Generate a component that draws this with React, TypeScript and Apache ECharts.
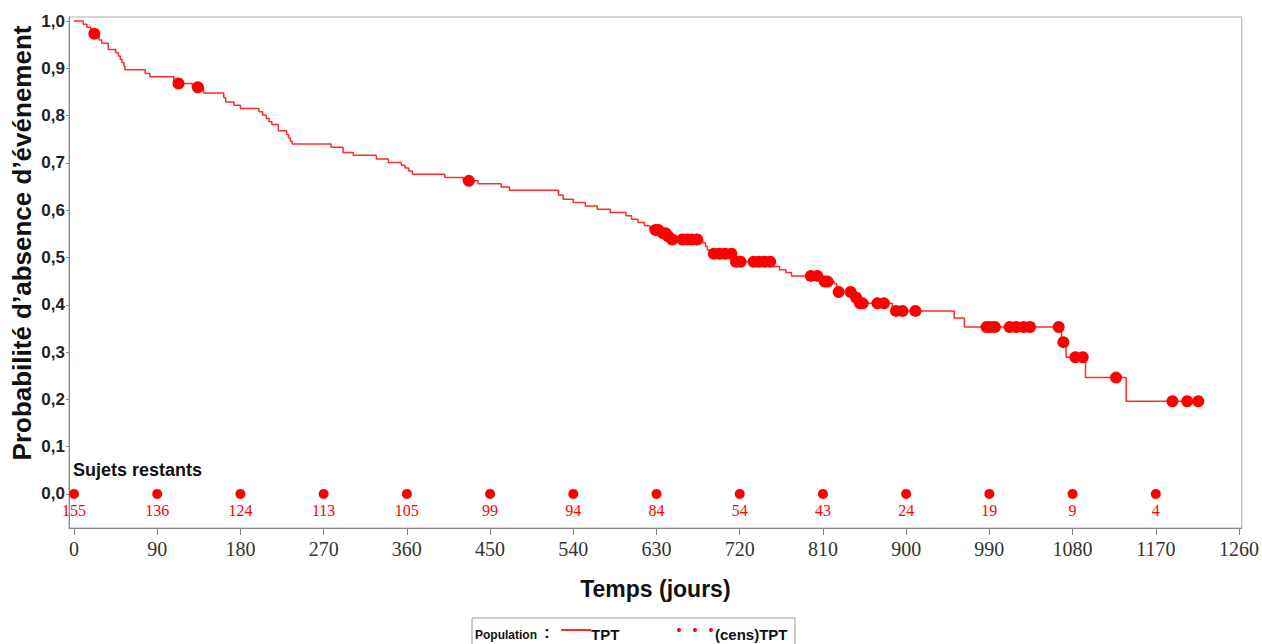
import React, { useEffect, useRef } from "react";
import * as echarts from "echarts";

// Kaplan-Meier step points (time in days, survival after the event)
const kmTimes = [0, 10, 14, 18, 20, 27, 30, 37, 45, 48, 50, 52, 54, 55, 77, 82, 108, 128, 140, 162, 164, 173, 180, 200, 204, 208, 211, 214, 221, 230, 232, 234, 236, 278, 291, 302, 327, 340, 354, 358, 362, 366, 401, 421, 437, 462, 471, 524, 529, 540, 553, 566, 580, 597, 603, 610, 617, 623, 635, 642, 645, 680, 683, 685, 688, 714, 756, 763, 770, 776, 808, 822, 825, 843, 848, 885, 952, 963, 1068, 1073, 1094, 1138];
const kmSurv = [1.0, 0.993, 0.987, 0.98, 0.973, 0.96, 0.953, 0.94, 0.933, 0.926, 0.919, 0.912, 0.905, 0.897, 0.889, 0.882, 0.868, 0.86, 0.848, 0.838, 0.829, 0.822, 0.815, 0.808, 0.801, 0.794, 0.787, 0.781, 0.768, 0.76, 0.753, 0.746, 0.74, 0.733, 0.722, 0.716, 0.708, 0.701, 0.695, 0.689, 0.683, 0.676, 0.669, 0.662, 0.656, 0.649, 0.642, 0.632, 0.623, 0.616, 0.609, 0.602, 0.595, 0.588, 0.581, 0.574, 0.567, 0.558, 0.551, 0.544, 0.538, 0.531, 0.524, 0.516, 0.508, 0.491, 0.481, 0.474, 0.468, 0.461, 0.449, 0.445, 0.427, 0.415, 0.403, 0.387, 0.372, 0.353, 0.321, 0.289, 0.246, 0.196];

// Censored observations (days)
const censorTimes = [22, 113, 134, 427, 629, 632, 637, 640, 643, 647, 658, 663, 668, 674, 692, 698, 704, 711, 716, 721, 735, 741, 747, 753, 797, 804, 812, 815, 827, 840, 846, 850, 853, 869, 876, 889, 896, 910, 987, 991, 996, 1012, 1019, 1027, 1034, 1065, 1070, 1083, 1091, 1127, 1188, 1204, 1216];

// Number at risk
const riskTimes = [0, 90, 180, 270, 360, 450, 540, 630, 720, 810, 900, 990, 1080, 1170];
const riskCounts = [155, 136, 124, 113, 105, 99, 94, 84, 54, 43, 24, 19, 9, 4];

// Axis ticks
const xTicks = [0, 90, 180, 270, 360, 450, 540, 630, 720, 810, 900, 990, 1080, 1170, 1260];
const yTicks = [0, 0.1, 0.2, 0.3, 0.4, 0.5, 0.6, 0.7, 0.8, 0.9, 1.0];

const RED = "#ff0000";
const SANS = "'Liberation Sans', Arial, sans-serif";
const SERIF = "'Liberation Serif', 'Times New Roman', serif";

function survAt(t: number): number {
  let s = kmSurv[0];
  for (let i = 0; i < kmTimes.length; i++) {
    if (kmTimes[i] <= t) s = kmSurv[i];
  }
  return s;
}

export default function App() {
  const ref = useRef<HTMLDivElement>(null);

  useEffect(() => {
    document.body.style.margin = "0";
    if (!ref.current) return;
    const chart = echarts.init(ref.current, null, { renderer: "svg" });

    const lastCensor = censorTimes[censorTimes.length - 1];
    const lineData: number[][] = kmTimes.map((t, i) => [t, kmSurv[i]]);
    lineData.push([lastCensor, survAt(lastCensor)]);
    const censorData = censorTimes.map((t) => [t, survAt(t)]);
    const riskData = riskTimes.map((t, i) => ({ value: [t, 0], count: riskCounts[i] }));

    chart.setOption({
      animation: false,
      backgroundColor: "#ffffff",
      grid: {
        left: 69,
        right: 18,
        top: 17,
        bottom: 116,
        show: true,
        borderColor: "#aaaaaa",
        borderWidth: 1,
        backgroundColor: "transparent",
      },
      xAxis: {
        type: "value",
        min: -5.4,
        max: 1263,
        splitLine: { show: false },
        axisLine: { show: true, onZero: false, lineStyle: { color: "#888888", width: 1 } },
        axisTick: {
          show: true,
          customValues: xTicks,
          length: 7,
          lineStyle: { color: "#888888" },
        },
        axisLabel: {
          customValues: xTicks,
          formatter: (v: number) => String(v),
          fontFamily: SERIF,
          fontSize: 20,
          color: "#333333",
          margin: 11,
        },
        name: "Temps (jours)",
        nameLocation: "middle",
        nameGap: 49,
        nameTextStyle: {
          fontFamily: SANS,
          fontWeight: "bold",
          fontSize: 23,
          color: "#111111",
        },
      },
      yAxis: {
        type: "value",
        min: -0.072,
        max: 1.0085,
        splitLine: { show: false },
        axisLine: { show: true, onZero: false, lineStyle: { color: "#888888", width: 1 } },
        axisTick: {
          show: true,
          customValues: yTicks,
          length: 3,
          lineStyle: { color: "#888888" },
        },
        axisLabel: {
          customValues: yTicks,
          formatter: (v: number) => v.toFixed(1).replace(".", ","),
          fontFamily: SANS,
          fontWeight: "bold",
          fontSize: 17,
          color: "#222222",
          margin: 4,
        },
      },
      series: [
        {
          name: "TPT",
          type: "line",
          step: "end",
          data: lineData,
          showSymbol: false,
          symbol: "none",
          lineStyle: { color: "#ff2a2a", width: 1.5 },
          z: 2,
        },
        {
          name: "(cens)TPT",
          type: "scatter",
          data: censorData,
          symbol: "circle",
          symbolSize: 12,
          itemStyle: { color: RED, opacity: 1 },
          z: 3,
        },
        {
          name: "Sujets restants",
          type: "scatter",
          data: riskData,
          symbol: "circle",
          symbolSize: 10,
          itemStyle: { color: RED, opacity: 1 },
          label: {
            show: true,
            position: "bottom",
            distance: 4,
            formatter: (p: any) => String(p.data.count),
            fontFamily: SERIF,
            fontSize: 16,
            color: RED,
          },
          z: 3,
        },
      ],
      graphic: [
        {
          type: "text",
          x: 22,
          y: 243,
          rotation: Math.PI / 2,
          style: {
            text: "Probabilité d’absence d’événement",
            fontFamily: SANS,
            fontWeight: "bold",
            fontSize: 26,
            fill: "#111111",
            textAlign: "center",
            textVerticalAlign: "middle",
          },
        },
        {
          type: "text",
          x: 73,
          y: 470,
          style: {
            text: "Sujets restants",
            fontFamily: SANS,
            fontWeight: "bold",
            fontSize: 18,
            fill: "#111111",
            textAlign: "left",
            textVerticalAlign: "middle",
          },
        },
        {
          type: "rect",
          shape: { x: 472, y: 618, width: 323, height: 40 },
          style: { fill: "#ffffff", stroke: "#999999", lineWidth: 1 },
        },
        {
          type: "text",
          x: 475,
          y: 635,
          style: {
            text: "Population",
            fontFamily: SANS,
            fontWeight: "bold",
            fontSize: 12,
            fill: "#111111",
            textAlign: "left",
            textVerticalAlign: "middle",
          },
        },
        {
          type: "text",
          x: 544,
          y: 632,
          style: {
            text: ":",
            fontFamily: SANS,
            fontWeight: "bold",
            fontSize: 17,
            fill: "#111111",
            textAlign: "left",
            textVerticalAlign: "middle",
          },
        },
        {
          type: "line",
          shape: { x1: 561, y1: 630, x2: 591, y2: 630 },
          style: { stroke: "#ff2a2a", lineWidth: 2 },
        },
        {
          type: "text",
          x: 591,
          y: 634,
          style: {
            text: "TPT",
            fontFamily: SANS,
            fontWeight: "bold",
            fontSize: 15,
            fill: "#111111",
            textAlign: "left",
            textVerticalAlign: "middle",
          },
        },
        { type: "circle", shape: { cx: 679, cy: 630, r: 2 }, style: { fill: RED } },
        { type: "circle", shape: { cx: 695, cy: 630, r: 2 }, style: { fill: RED } },
        { type: "circle", shape: { cx: 711, cy: 630, r: 2 }, style: { fill: RED } },
        {
          type: "text",
          x: 715,
          y: 634,
          style: {
            text: "(cens)TPT",
            fontFamily: SANS,
            fontWeight: "bold",
            fontSize: 15,
            fill: "#111111",
            textAlign: "left",
            textVerticalAlign: "middle",
          },
        },
      ],
    });

    return () => {
      chart.dispose();
    };
  }, []);

  return <div ref={ref} style={{ width: "1262px", height: "644px" }} />;
}
